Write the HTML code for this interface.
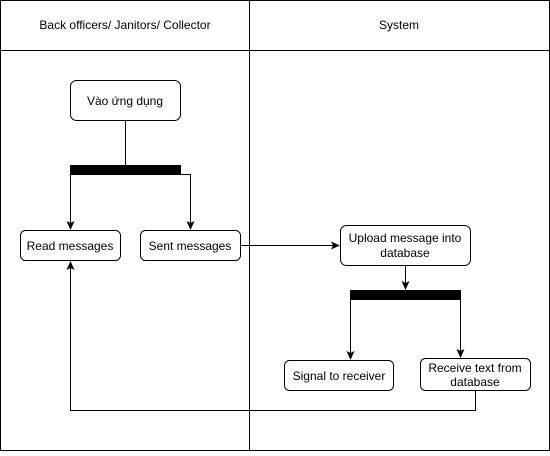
<!DOCTYPE html>
<html><head><style>body{margin:0;background:#fff}</style></head><body>
<svg width="550" height="451" xmlns="http://www.w3.org/2000/svg" font-family="Liberation Sans, Arial, sans-serif" font-size="12">
<defs><marker id="a" markerWidth="10" markerHeight="10" refX="8" refY="5" orient="auto" markerUnits="userSpaceOnUse"><path d="M0,1 L9,5 L0,9 L2,5 Z" fill="#000"/></marker></defs>
<g fill="none" stroke="#000" stroke-width="1">
<rect x="0.5" y="0.5" width="549" height="450"/>
<line x1="0" y1="50.5" x2="550" y2="50.5"/>
<line x1="249.5" y1="0" x2="249.5" y2="451"/>
<rect x="70.5" y="80.5" width="110" height="40" rx="6"/>
<rect x="20.5" y="230.5" width="100" height="30" rx="5"/>
<rect x="140.5" y="230.5" width="100" height="30" rx="5"/>
<rect x="340.5" y="225.5" width="130" height="40" rx="6"/>
<rect x="284.5" y="360.5" width="109" height="30" rx="5"/>
<rect x="420.5" y="358.5" width="110" height="32" rx="5"/>
<line x1="125.5" y1="120" x2="125.5" y2="165"/>
<path d="M70.5 174 V229" marker-end="url(#a)"/>
<path d="M180 174.5 H190.5 V229" marker-end="url(#a)"/>
<path d="M240 245.5 H339" marker-end="url(#a)"/>
<path d="M405.5 265 V289" marker-end="url(#a)"/>
<path d="M350.5 300 V359" marker-end="url(#a)"/>
<path d="M460.5 300 V357" marker-end="url(#a)"/>
<path d="M475.5 390 V410.5 H70.5 V262" marker-end="url(#a)"/>
</g>
<rect x="70" y="165" width="111" height="10" fill="#000"/>
<rect x="350" y="290" width="111" height="10" fill="#000"/>
<g fill="#000" text-anchor="middle">
<text x="125" y="29">Back officers/ Janitors/ Collector</text>
<text x="399" y="29">System</text>
<text x="125" y="105">Vào ứng dụng</text>
<text x="70" y="250">Read messages</text>
<text x="190" y="250">Sent messages</text>
<text x="405" y="242">Upload message into</text>
<text x="405" y="257">database</text>
<text x="339" y="380">Signal to receiver</text>
<text x="475" y="372">Receive text from</text>
<text x="475" y="386">database</text>
</g>
</svg>
</body></html>
